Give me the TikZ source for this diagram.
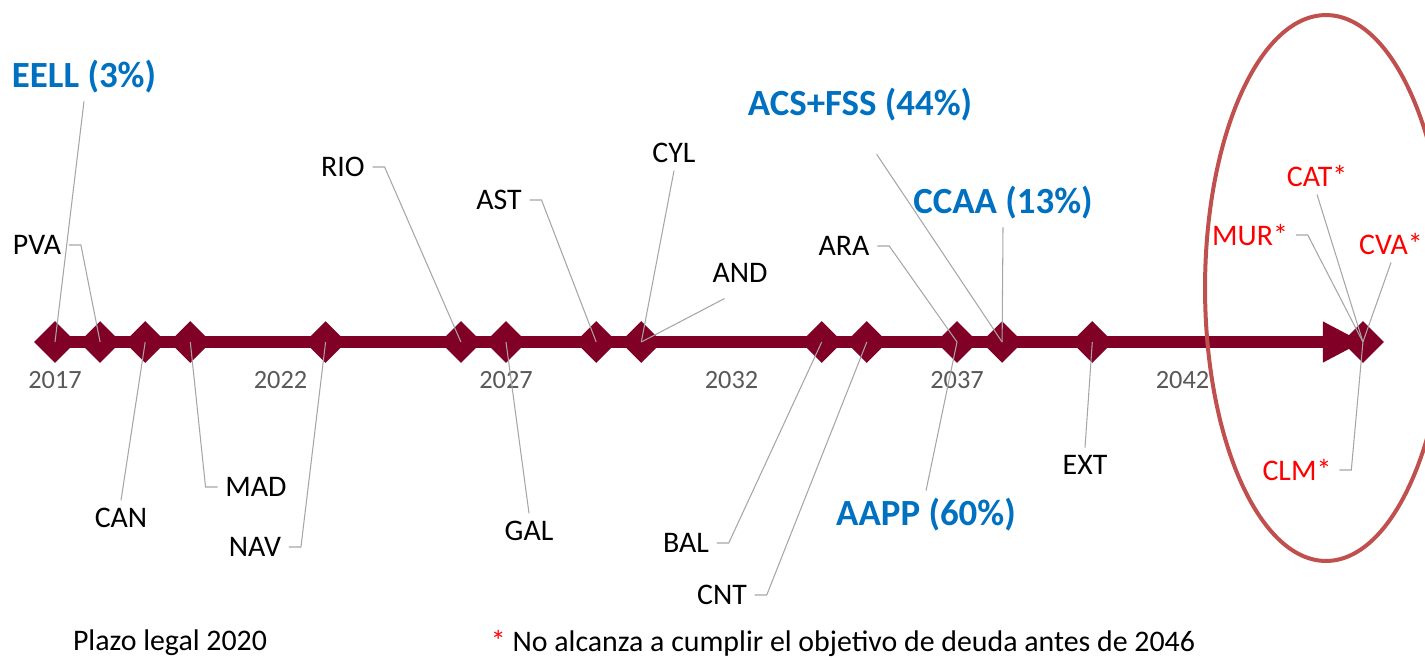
\documentclass[tikz,border=0pt]{standalone}
\usepackage{fontspec}
\setmainfont{Carlito}
\usetikzlibrary{shapes.geometric, arrows.meta, positioning}

\definecolor{barred}{RGB}{128,0,38}
\definecolor{sectorblue}{RGB}{0,112,192}
\definecolor{ringred}{RGB}{192,80,77}
\definecolor{leadgray}{RGB}{166,166,166}
\definecolor{yeargray}{RGB}{89,89,89}

\begin{document}
\begin{tikzpicture}[x=0.02cm, y=-0.02cm,
    milestone/.style={diamond, fill=barred, inner sep=0pt, minimum width=0.84cm, minimum height=0.84cm},
    region/.style={inner sep=0.15cm, font=\fontsize{17}{20}\selectfont},
    late/.style={region, text=red},
    sector/.style={inner sep=0.15cm, text=sectorblue, font=\fontsize{21}{25}\selectfont\bfseries},
    yearlabel/.style={text=yeargray, font=\fontsize{15}{18}\selectfont},
    leader/.style={draw=leadgray, line width=0.6pt}]

    \useasboundingbox (0,0) rectangle (1425,659);

    % time axis
    \foreach \yr in {2017,2018,2019,2020,2023,2026,2027,2029,2030,2034,2035,2037,2038,2040,2046}
        \node[milestone] (d\yr) at ({55+45.1*(\yr-2017)},342) {};
    \draw[barred, line width=0.24cm, -{Triangle[length=0.8cm, width=0.76cm]}] (d2017.center) -- (d2046.center);
    \foreach \yr in {2017,2022,...,2042}
        \node[yearlabel] (y\yr) at ({55+45.1*(\yr-2017)},380) {\yr};

    % labels
    \node[sector] (eell) at (84,77) {EELL (3\%)};
    \node[region] (pva) at (37,245) {PVA};
    \node[region] (can) at (121,518) {CAN};
    \node[region] (mad) at (256,487) {MAD};
    \node[region] (nav) at (255,547) {NAV};
    \node[region] (rio) at (343,167) {RIO};
    \node[region] (gal) at (529,531) {GAL};
    \node[region] (ast) at (499,200) {AST};
    \node[region] (cyl) at (674,153) {CYL};
    \node[region] (and) at (740,273) {AND};
    \node[region] (bal) at (686,543) {BAL};
    \node[region] (cnt) at (722,595) {CNT};
    \node[region] (ara) at (844,246) {ARA};
    \node[sector] (aapp) at (926,515) {AAPP (60\%)};
    \node[sector] (acs) at (860,105) {ACS+FSS (44\%)};
    \node[sector] (ccaa) at (1003,203) {CCAA (13\%)};
    \node[region] (ext) at (1085,465) {EXT};
    \node[late] (cat) at (1317,176) {CAT*};
    \node[late] (mur) at (1250,235) {MUR*};
    \node[late] (cva) at (1391,244) {CVA*};
    \node[late] (clm) at (1297,470) {CLM*};

    % leaders
    \draw[leader] (eell.south) -- (d2017.center);
    \draw[leader] (pva.east) -- ++(12,0) -- (d2018.center);
    \draw[leader] (can.north) -- (d2019.center);
    \draw[leader] (mad.west) -- ++(-12,0) -- (d2020.center);
    \draw[leader] (nav.east) -- ++(12,0) -- (d2023.center);
    \draw[leader] (rio.east) -- ++(12,0) -- (d2026.center);
    \draw[leader] (gal.north) -- (d2027.center);
    \draw[leader] (ast.east) -- ++(12,0) -- (d2029.center);
    \draw[leader] (cyl.south) -- (d2030.center);
    \draw[leader, shorten <=0.35cm] (and.south) -- (d2030.center);
    \draw[leader] (bal.east) -- ++(12,0) -- (d2034.center);
    \draw[leader] (cnt.east) -- ++(12,0) -- (d2035.center);
    \draw[leader] (ara.east) -- ++(12,0) -- (d2037.center);
    \draw[leader] (aapp.north) -- (d2037.center);
    \draw[leader, shorten <=0.6cm] (acs.south) -- (d2038.center);
    \draw[leader] (ccaa.south) -- (d2038.center);
    \draw[leader] (ext.north) -- (d2040.center);
    \draw[leader] (cat.south) -- (d2046.center);
    \draw[leader] (mur.east) -- ++(12,0) -- (d2046.center);
    \draw[leader] (cva.south) -- (d2046.center);
    \draw[leader] (clm.east) -- ++(12,0) -- (d2046.center);

    % notes
    \node[region] (legal) at (170,643) {Plazo legal 2020};
    \node[region] (note) at (843,643) {\textcolor{red}{*} No alcanza a cumplir el objetivo de deuda antes de 2046};

    \draw[ringred, line width=0.08cm] (1326,288) ellipse [x radius=2.42cm, y radius=5.46cm];

\end{tikzpicture}
\end{document}
